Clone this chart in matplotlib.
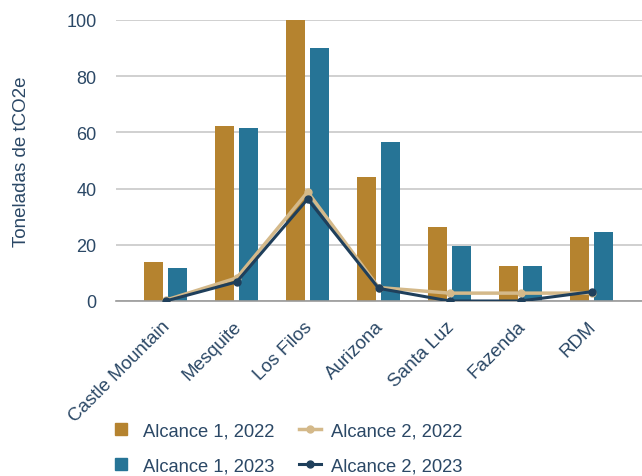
import matplotlib
matplotlib.use("Agg")
import matplotlib.pyplot as plt
from matplotlib.lines import Line2D
import matplotlib.transforms as mtransforms
import numpy as np

categories = ["Castle Mountain", "Mesquite", "Los Filos", "Aurizona", "Santa Luz", "Fazenda", "RDM"]
scope1_2022 = [14, 62.3, 100, 44.1, 26.3, 12.5, 22.8]
scope1_2023 = [11.8, 61.6, 90, 56.6, 19.6, 12.5, 24.6]
scope2_2022 = [0.3, 8.2, 38.8, 4.8, 2.8, 2.8, 2.8]
scope2_2023 = [0, 6.8, 36.3, 4.5, 0, 0, 3.3]
yticks = [0, 20, 40, 60, 80, 100]
labels = ["Alcance 1, 2022", "Alcance 1, 2023", "Alcance 2, 2022", "Alcance 2, 2023"]

plt.rcParams['font.family'] = ['Liberation Sans', 'DejaVu Sans']
text_color = "#2b4866"
c_gold = "#b5832f"
c_teal = "#267496"
c_tan = "#d4b98a"
c_dark = "#1f3f5b"

fig = plt.figure(figsize=(6.42, 4.77), dpi=100)
ax = fig.add_axes([116/642, (477-302)/477, 1 - 116/642, (302-21)/477])

x = np.arange(len(categories))
w = 0.27
off = 0.17
ax.bar(x - off, scope1_2022, width=w, color=c_gold, zorder=2)
ax.bar(x + off, scope1_2023, width=w, color=c_teal, zorder=2)
ax.plot(x, scope2_2022, color=c_tan, lw=2.5, marker='o', ms=5, zorder=3)
ax.plot(x, scope2_2023, color=c_dark, lw=2.2, marker='o', ms=5, zorder=4)

ax.set_xlim(-0.70, 6.71)
ax.set_ylim(0, 100)
ax.set_yticks(yticks)
ax.yaxis.grid(True, color="#c8c8c8", lw=1.2, zorder=0)
ax.set_axisbelow(True)
for s in ["top", "right", "left"]:
    ax.spines[s].set_visible(False)
ax.spines["bottom"].set_color("#9a9a9a")
ax.spines["bottom"].set_linewidth(1.2)
ax.tick_params(axis='both', length=0, labelcolor=text_color)
ax.tick_params(axis='y', pad=14, labelsize=13)
ax.tick_params(axis='x', pad=12, labelsize=13.5)
ax.set_xticks(x)
ax.set_xticklabels(categories, rotation=45, ha='right', rotation_mode='anchor')
shift = mtransforms.ScaledTranslation(-4/100, 0, fig.dpi_scale_trans)
for lab in ax.get_xticklabels():
    lab.set_transform(lab.get_transform() + shift)
ax.set_ylabel("Toneladas de tCO2e", fontsize=13.5, color=text_color, labelpad=26)

handles = [
    Line2D([], [], ls='none', marker='s', ms=8, color=c_gold),
    Line2D([], [], ls='none', marker='s', ms=8, color=c_teal),
    Line2D([], [], color=c_tan, lw=2.5, marker='o', ms=5),
    Line2D([], [], color=c_dark, lw=2.2, marker='o', ms=5),
]
fig.legend(handles=handles, labels=labels, loc='upper left', bbox_to_anchor=(94/642, 1 - 407/477),
           ncol=2, frameon=False, fontsize=13.2, labelcolor=text_color,
           handlelength=1.2, columnspacing=1.35, labelspacing=0.98, handletextpad=0.55)

fig.savefig("out.png", dpi=100)
